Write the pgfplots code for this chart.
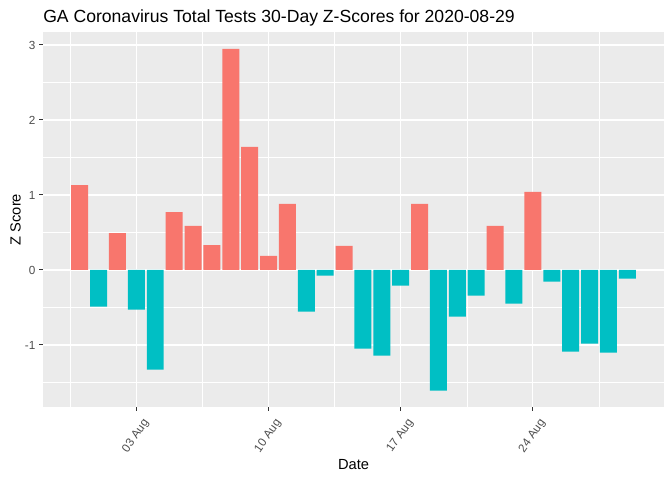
\documentclass[border=0pt]{standalone}
\usepackage{pgfplots}
\pgfplotsset{compat=1.18}
\usepackage{fontspec}
\setmainfont{Liberation Sans}
\definecolor{posred}{HTML}{F8766D}
\definecolor{negteal}{HTML}{00BFC4}
\definecolor{panel}{HTML}{EBEBEB}
\definecolor{tickgray}{HTML}{333333}
\definecolor{labgray}{HTML}{4D4D4D}
\begin{document}
\begin{tikzpicture}
\useasboundingbox (-32.25pt,-54.75pt) rectangle (471.75pt,305.25pt);
\begin{axis}[
    at={(0,0)}, anchor=south west,
    scale only axis,
    width=465.75pt, height=281.25pt,
    xmin=-1.945, xmax=30.945,
    ymin=-1.827, ymax=3.173,
    axis background/.style={fill=panel},
    axis line style={draw=none},
    tick pos=left,
    tick align=outside,
    major tick length=2.75pt,
    minor tick length=0pt,
    major tick style={draw=tickgray, line width=0.75pt},
    grid=both,
    major grid style={white, line width=0.8pt},
    minor grid style={white, line width=0.4pt},
    xtick={3,10,17,24},
    xticklabels={03 Aug,10 Aug,17 Aug,24 Aug},
    minor xtick={-0.5,6.5,13.5,20.5,27.5},
    ytick={-1,0,1,2,3},
    yticklabels={-1,0,1,2,3},
    minor ytick={-1.5,-0.5,0.5,1.5,2.5},
    ticklabel style={font=\fontsize{8.8}{10}\selectfont, text=labgray, inner sep=0pt},
    xticklabel style={xshift=7.8pt, yshift=-7.5pt, rotate=55, anchor=east},
    yticklabel style={anchor=east, xshift=-2.75pt},
    title={GA Coronavirus Total Tests 30-Day Z-Scores for 2020-08-29},
    title style={at={(0,1)}, anchor=base west, inner sep=0pt, yshift=1.5pt,
        font=\fontsize{13.2}{15}\selectfont},
    xlabel={Date},
    ylabel={Z Score},
    xlabel style={at={(axis description cs:0.5,0)}, anchor=base, inner sep=0pt,
        yshift=-46.5pt, font=\fontsize{11}{13}\selectfont},
    ylabel style={at={(axis description cs:-0.0359,0.5)}, anchor=base,
        inner sep=0pt, font=\fontsize{11}{13}\selectfont},
    ybar, bar width=0.9, bar shift=0pt,
]
\addplot[fill=posred, draw=none] coordinates {
    (0,1.133) (2,0.493) (5,0.773) (6,0.587) (7,0.333) (8,2.947) (9,1.64)
    (10,0.187) (11,0.88) (14,0.32) (18,0.88) (22,0.587) (24,1.04)
};
\addplot[fill=negteal, draw=none] coordinates {
    (1,-0.489) (3,-0.529) (4,-1.329) (12,-0.556) (13,-0.076) (15,-1.049)
    (16,-1.142) (17,-0.209) (19,-1.609) (20,-0.622) (21,-0.342) (23,-0.449)
    (25,-0.156) (26,-1.089) (27,-0.982) (28,-1.102) (29,-0.116)
};
\end{axis}
\end{tikzpicture}
\end{document}
